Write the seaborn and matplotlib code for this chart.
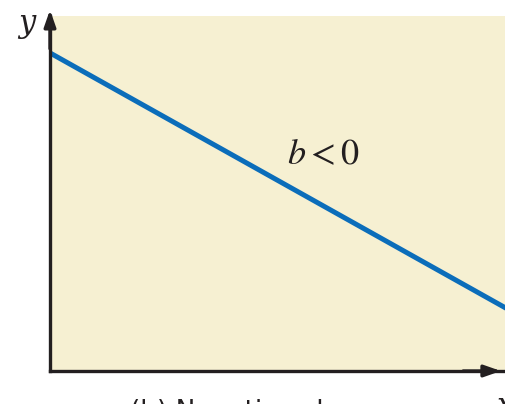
import matplotlib
matplotlib.use("Agg")
import matplotlib.pyplot as plt
import seaborn as sns
import pandas as pd

# line values (axes units 0..1)
x_vals = [0.0, 1.0]
y_vals = [0.896, 0.177]
line_label = "$b < 0$"
axis_labels = ["x", "y"]
caption = "(b) Negative slope"

df = pd.DataFrame({"x": x_vals, "y": y_vals})

sns.set_style("white")
plt.rcParams["mathtext.fontset"] = "stix"
fig = plt.figure(figsize=(5.06, 4.04), dpi=100)
ax = fig.add_axes([50 / 506, 1 - 371 / 404, 456 / 506, 355 / 404])
ax.set_facecolor("#f6f0d2")

sns.lineplot(data=df, x="x", y="y", ax=ax, color="#0b6dba", linewidth=3.6)
ax.set_xlim(0, 1)
ax.set_ylim(0, 1)
ax.set_xticks([])
ax.set_yticks([])
ax.set_xlabel("")
ax.set_ylabel("")

for s in ["top", "right"]:
    ax.spines[s].set_visible(False)
for s in ["left", "bottom"]:
    ax.spines[s].set_color("#231f20")
    ax.spines[s].set_linewidth(2.4)

# axis arrows
ax.annotate("", xy=(0, 1.025), xytext=(0, 0.9), xycoords="axes fraction",
            arrowprops=dict(arrowstyle="-|>,head_length=1.0,head_width=0.35",
                            color="#231f20", lw=2.4), annotation_clip=False)
ax.annotate("", xy=(0.995, 0), xytext=(0.9, 0), xycoords="axes fraction",
            arrowprops=dict(arrowstyle="-|>,head_length=1.0,head_width=0.35",
                            color="#231f20", lw=2.4), annotation_clip=False)

ax.text(-0.05, 0.98, axis_labels[1], transform=ax.transAxes, fontsize=22,
        family="DejaVu Serif", style="italic", ha="center", va="center",
        color="#231f20", clip_on=False)
ax.text(1.0, -0.055, axis_labels[0], transform=ax.transAxes, fontsize=22,
        family="DejaVu Serif", style="italic", ha="center", va="top",
        color="#231f20", clip_on=False)

ax.text(0.60, 0.612, line_label, transform=ax.transAxes, fontsize=26,
        ha="center", va="center", color="#231f20")

fig.text(130 / 506, 1 - 399 / 404, caption, fontsize=19, family="DejaVu Sans",
         ha="left", va="top", color="#231f20")

fig.savefig("out.png", dpi=100)
